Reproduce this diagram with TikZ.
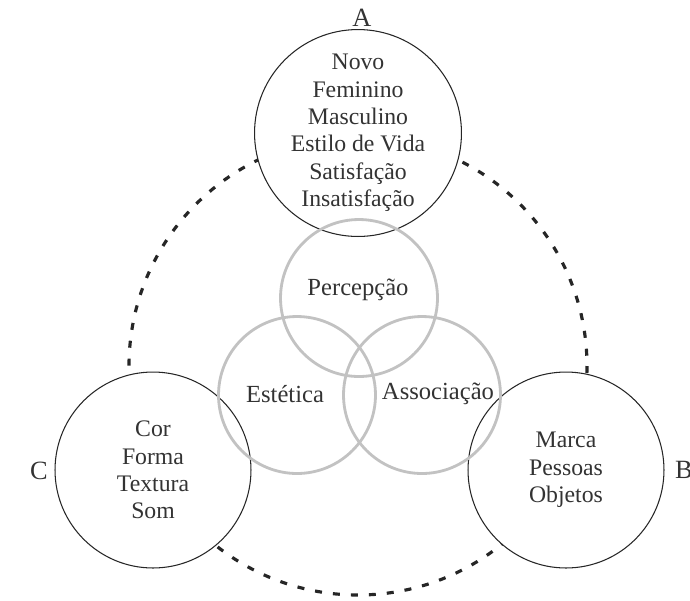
\documentclass[tikz,border=0pt]{standalone}
\usepackage{fontspec}
\setmainfont{Liberation Serif}
\begin{document}
\begin{tikzpicture}[x=0.02cm,y=-0.02cm]

    \tikzset{
      group/.style={
        circle,
        draw=black!85,
        fill=white,
        line width=0.6pt,
        minimum size=3.92cm,
        inner sep=0pt,
        align=center,
        text=black!80,
        font=\fontsize{13.5}{15.6}\selectfont,
      },
      field/.style={
        circle,
        draw=black!24,
        line width=1.6pt,
        minimum size=3.14cm,
        inner sep=0pt,
      },
      fieldname/.style={
        text=black!80,
        font=\fontsize{14}{16}\selectfont,
      },
      letter/.style={
        text=black!80,
        font=\fontsize{15}{18}\selectfont,
      },
    }
    \useasboundingbox (0,0) rectangle (690,600);
    	\draw[black!85, line width=1.8pt, dash pattern=on 0.14cm off 0.22cm] (358,366) circle[radius=229];
	\node[group] (novo) at (358,133) {Novo\\Feminino\\Masculino\\Estilo de Vida\\Satisfação\\Insatisfação};
	\node[group] (cor) at (153,470) {Cor\\Forma\\Textura\\Som};
	\node[group] (marca) at (566,470) {Marca\\Pessoas\\Objetos};
	\node[field] (percepcao) at (359,298) {};
	\node[field] (estetica) at (297,395) {};
	\node[field] (associacao) at (422,395) {};
	\node[fieldname] (percepcaoname) at (358,290) {Percepção};
	\node[fieldname] (esteticaname) at (285,394) {Estética};
	\node[fieldname] (associacaoname) at (438,394) {Associação};
	\node[letter] (letterA) at (362,18) {A};
	\node[letter] (letterC) at (39,471) {C};
	\node[letter] (letterB) at (684,470) {B};

\end{tikzpicture}
\end{document}
